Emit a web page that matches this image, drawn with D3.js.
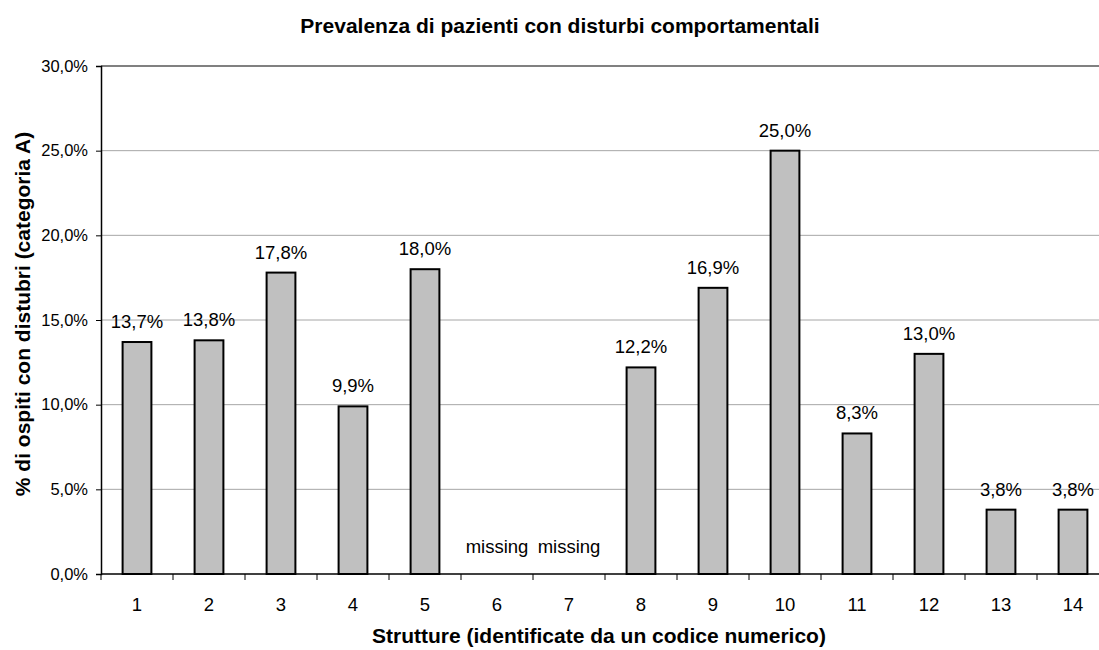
<!DOCTYPE html>
<html>
<head>
<meta charset="utf-8">
<script src="https://cdn.jsdelivr.net/npm/d3@7"></script>
<style>
  body { margin: 0; background: #fff; }
  svg { display: block; font-family: "Liberation Sans", Arial, sans-serif; }
</style>
</head>
<body>
<div id="chart"></div>
<script>
// Prevalenza di pazienti con disturbi comportamentali
const CATEGORIES = ["1", "2", "3", "4", "5", "6", "7", "8", "9", "10", "11", "12", "13", "14"];
const VALUES = [13.7, 13.8, 17.8, 9.9, 18.0, null, null, 12.2, 16.9, 25.0, 8.3, 13.0, 3.8, 3.8];
const Y_TICKS = [0, 5, 10, 15, 20, 25, 30];

const W = 1099, H = 650;
const margin = { top: 66, left: 101, bottom: 76 };
const plotW = 72 * 14; // extends beyond the right edge, as in the reference
const plotH = H - margin.top - margin.bottom;

const svg = d3.select("#chart").append("svg")
    .attr("width", W)
    .attr("height", H);

const g = svg.append("g")
    .attr("transform", `translate(${margin.left},${margin.top})`);

const x = d3.scaleBand()
    .domain(CATEGORIES)
    .range([0, plotW])
    .paddingInner(0.6)
    .paddingOuter(0.3);

const y = d3.scaleLinear()
    .domain([0, 30])
    .range([plotH, 0]);

const fmt = v => v.toFixed(1).replace(".", ",") + "%";

// gridlines
g.selectAll(".grid")
    .data(Y_TICKS.filter(d => d > 0))
    .enter().append("line")
    .attr("x1", 0)
    .attr("x2", plotW)
    .attr("y1", d => y(d))
    .attr("y2", d => y(d))
    .attr("stroke", d => d === 30 ? "#808080" : "#a6a6a6")
    .attr("stroke-width", d => d === 30 ? 2 : 1);

// bars
const data = CATEGORIES.map((c, i) => ({ cat: c, val: VALUES[i] }));

g.selectAll(".bar")
    .data(data.filter(d => d.val !== null))
    .enter().append("rect")
    .attr("x", d => x(d.cat))
    .attr("y", d => y(d.val))
    .attr("width", x.bandwidth())
    .attr("height", d => plotH - y(d.val))
    .attr("fill", "#c0c0c0")
    .attr("stroke", "#000")
    .attr("stroke-width", 2);

// value labels
g.selectAll(".lbl")
    .data(data)
    .enter().append("text")
    .attr("x", d => x(d.cat) + x.bandwidth() / 2)
    .attr("y", d => d.val === null ? y(0) - 21 : y(d.val) - 14)
    .attr("text-anchor", "middle")
    .style("font-size", "18.5px")
    .style("fill", "#000")
    .text(d => d.val === null ? "missing" : fmt(d.val));

// y axis
const yAxis = g.append("g")
    .call(d3.axisLeft(y).tickValues(Y_TICKS).tickFormat(d => d.toFixed(1).replace(".", ",") + "%").tickSizeOuter(0).tickSize(5).tickPadding(8));
yAxis.select(".domain").attr("stroke", "#000").attr("stroke-width", 1.5);
yAxis.selectAll("text").style("font-size", "16.5px").style("fill", "#000")
    .style("font-family", "'Liberation Sans', Arial, sans-serif");

// x axis with ticks on band boundaries
const xAxisG = g.append("g")
    .attr("transform", `translate(0,${plotH})`);
xAxisG.append("line")
    .attr("x1", 0).attr("x2", plotW)
    .attr("stroke", "#000").attr("stroke-width", 1.5);
xAxisG.selectAll(".xt")
    .data(d3.range(CATEGORIES.length + 1))
    .enter().append("line")
    .attr("x1", i => i * x.step())
    .attr("x2", i => i * x.step())
    .attr("y1", 0).attr("y2", 6)
    .attr("stroke", "#000");
xAxisG.selectAll(".xl")
    .data(CATEGORIES)
    .enter().append("text")
    .attr("x", d => x(d) + x.bandwidth() / 2)
    .attr("y", 37)
    .attr("text-anchor", "middle")
    .style("font-size", "18.5px")
    .text(d => d);

// titles
svg.append("text")
    .attr("x", 560)
    .attr("y", 33)
    .attr("text-anchor", "middle")
    .style("font-size", "21px")
    .style("font-weight", "bold")
    .text("Prevalenza di pazienti con disturbi comportamentali");

svg.append("text")
    .attr("x", 599)
    .attr("y", 643)
    .attr("text-anchor", "middle")
    .style("font-size", "21px")
    .style("font-weight", "bold")
    .text("Strutture (identificate da un codice numerico)");

svg.append("text")
    .attr("transform", `translate(30,314) rotate(-90)`)
    .attr("text-anchor", "middle")
    .style("font-size", "21px")
    .style("font-weight", "bold")
    .text("% di ospiti con distubri (categoria A)");
</script>
</body>
</html>
